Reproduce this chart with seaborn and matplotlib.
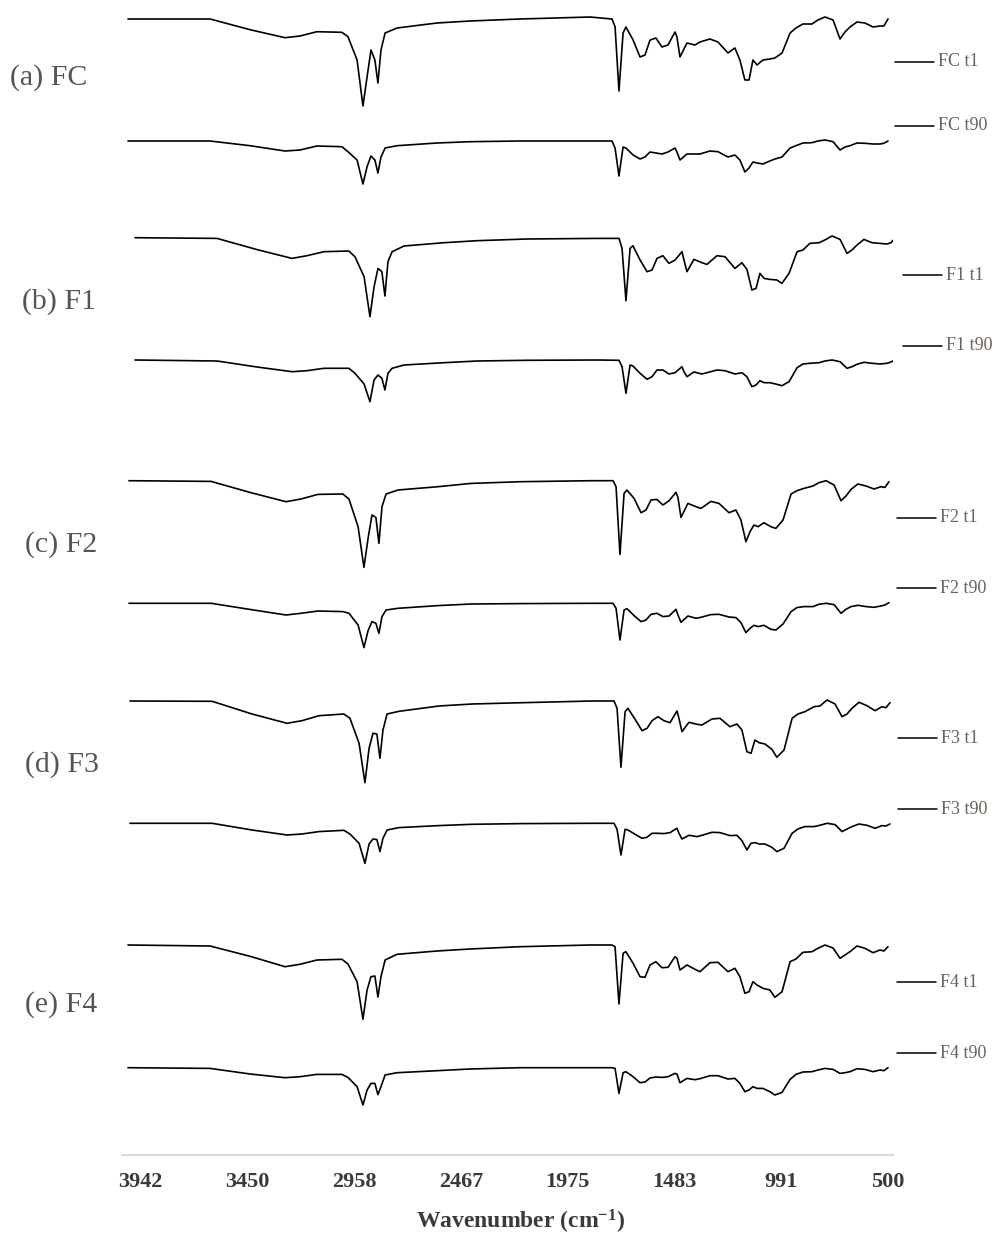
import numpy as np
import pandas as pd
import matplotlib
matplotlib.use("Agg")
import matplotlib.pyplot as plt
import seaborn as sns
from matplotlib import transforms
from matplotlib.lines import Line2D

sns.set_theme(style="white")
plt.rcParams["font.family"] = ["Liberation Serif", "DejaVu Serif"]
plt.rcParams["mathtext.fontset"] = "custom"
plt.rcParams["mathtext.rm"] = "Liberation Serif:bold"
plt.rcParams["mathtext.bf"] = "Liberation Serif:bold"
plt.rcParams["mathtext.it"] = "Liberation Serif:bold"

# ---------------- data ----------------
wavenumber = [4000, 3622, 3438, 3277, 3208, 3130, 3015, 2987, 2945, 2918,
              2899, 2881, 2863, 2849, 2835, 2816, 2761, 2577, 2425, 2195,
              1872, 1771, 1757, 1739, 1720, 1707, 1674, 1642, 1619, 1596,
              1569, 1541, 1513, 1481, 1472, 1458, 1426, 1389, 1366, 1320,
              1283, 1237, 1205, 1182, 1159, 1140, 1122, 1103, 1076, 1044,
              1021, 988, 951, 924, 892, 850, 823, 790, 753, 721,
              698, 675, 643, 606, 569, 537, 519, 500]

# transmittance drop relative to each trace's own baseline (arbitrary units)
fc_t1 = [0, 0, 10.7, 18.7, 17, 12.7, 13.3, 17.7, 41, 87,
         58, 31, 41, 64, 31, 14, 9, 4, 2, 0,
         -2, 0, 7.7, 72, 14, 8, 21, 38, 36, 21,
         19, 28, 26, 13, 18, 38, 24, 26, 23, 20,
         23, 34, 29, 41, 61, 61, 41, 46, 41, 40,
         39, 34, 14, 9, 5, 5, 1, -2, 1, 20,
         13, 8, 3, 4, 8, 7, 7, 0]
fc_t90 = [0, 0, 4.7, 10, 9, 5, 5.7, 10.7, 19, 43,
          25.7, 15, 19, 32, 16, 7, 4.7, 2, 0.7, 0,
          0, 0, 7, 35, 6, 7, 14, 18, 16, 11,
          12, 13, 11, 7, 11, 19, 13, 13, 13, 10,
          10.7, 16, 14, 19, 31, 27, 21, 22, 23, 20,
          18, 16, 7, 4.7, 2, 1.7, 0, -1, 0.7, 9,
          6, 4.7, 2, 2.3, 3, 3, 2.3, 0]
f1_t1 = [0, 0.7, 11.9, 20.7, 18, 14, 13.3, 19, 39, 79,
         49, 30.7, 34, 58.3, 24, 14, 8.3, 5, 3, 1.3,
         0.7, 0.7, 10.7, 63, 10.7, 8, 22.3, 34, 32.3, 20.7,
         18, 25.7, 22.3, 14, 22.3, 34, 21.7, 25, 26.7, 18,
         19, 30.7, 25, 31.7, 52.3, 50.7, 35.7, 40.7, 41.7, 42.3,
         45.7, 35.7, 14, 12.3, 5.7, 5, 2.3, -1.7, 1.7, 15.7,
         12.3, 7.3, 1.7, 5, 5.7, 6.3, 5, 0.7]
f1_t90 = [0, 1, 7, 11.7, 10.7, 8.3, 8.3, 13.3, 24, 41.7,
          20, 15, 18.3, 30, 13.3, 8.3, 5, 2.7, 1, 0.3,
          0, 0.3, 6.7, 33.3, 5, 6, 13.3, 19.3, 16.7, 10,
          10, 14, 12.7, 6.7, 11.7, 16.7, 12, 14, 12.7, 10,
          10.7, 14, 12.7, 16.7, 26.7, 25, 20.7, 22.7, 22.7, 24.3,
          25.7, 21.7, 7.7, 4, 3.3, 2.7, 1, 0, 1.7, 8.3,
          6.7, 4.3, 2.3, 3.3, 4, 3.3, 2, 0]
f2_t1 = [0, 0.7, 12, 21, 18.3, 13.7, 13.3, 18.3, 46, 86.7,
         57.7, 34.3, 36.7, 62.7, 26, 13.3, 9.3, 6, 2.7, 1,
         0, 0, 6, 73.7, 12.7, 9.3, 17.7, 32, 29.3, 19.3,
         18.7, 24.3, 20, 11.7, 16.7, 36.7, 22.7, 26, 27.7, 20.7,
         22.7, 32, 29.3, 39.3, 61, 51, 44.3, 46, 42, 46,
         47.7, 39.3, 13.3, 10, 7.7, 5.3, 2, 0, 4.3, 20,
         15.3, 8.7, 3.3, 5.3, 8.3, 6, 6.7, 1]
f2_t90 = [0, 0, 6.3, 11.7, 10, 7.7, 8.3, 10, 21.7, 44.3,
          27.3, 18.3, 20, 30, 13.3, 6.7, 5, 2.3, 0.7, 0.3,
          0, 0, 5, 36.7, 6.7, 5.3, 12.3, 18.3, 16.7, 11,
          10, 13.3, 12.7, 6, 11.7, 19, 12.7, 15, 14, 11.3,
          11, 13.7, 14.3, 19.3, 29.3, 25, 22, 23.3, 22, 26,
          26.7, 20.7, 8.3, 4.3, 3.3, 3.3, 1, 0, 1.3, 10,
          6, 3.3, 2, 3.3, 4, 2.7, 1.7, -0.7]
f3_t1 = [0, 0.3, 13, 22.3, 19.7, 14.7, 13, 17.3, 42.3, 81.7,
         47.3, 32.3, 33, 57.3, 29, 13, 10.3, 5, 3, 1.7,
         0, 0, 7.3, 66.3, 10.7, 7.3, 18.3, 29.7, 27.3, 19.7,
         15.7, 19.7, 21.7, 10, 17.3, 30.7, 21.3, 23.3, 24, 18,
         17.3, 25.7, 23, 29, 50.7, 52.3, 39, 41.7, 43, 48.3,
         56.3, 49, 17.3, 13, 10.7, 5.7, 5, -1, 3, 15.7,
         13, 7.3, 1.3, 4.7, 9.7, 5.7, 6.7, 1.7]
f3_t90 = [0, 0, 6.7, 11.7, 10.7, 8.3, 7, 10.7, 20, 40,
          20.7, 15.7, 16.3, 28.3, 15, 6.7, 4.3, 2.3, 1, 0.3,
          0, 0, 6, 31.7, 6, 6.7, 11, 15, 14, 10,
          10, 10.3, 9.3, 5, 10, 15.7, 12, 13.3, 12, 9,
          9.3, 12.3, 12, 17.3, 26.7, 20, 19.3, 20.7, 20.7, 24,
          28.3, 25, 10, 5.7, 3.3, 3.3, 2, 0, 1.3, 8.3,
          5.7, 3.3, 0.7, 2, 5, 2.3, 2.7, 0.7]
f4_t1 = [0, 1, 11.3, 21.7, 19.3, 15, 14.3, 19, 36.7, 74.3,
         45, 31.7, 31, 52, 31.7, 15, 9.3, 6, 4, 1.7,
         0, 0, 1.7, 59, 8.3, 6.7, 18.3, 31.7, 32.3, 20,
         16.7, 22.7, 22.3, 11.7, 13.3, 25, 20, 24.3, 26.7, 17.7,
         17.3, 26.7, 23.3, 31.7, 48.3, 46.7, 36.7, 40, 43.3, 45,
         52.3, 46.7, 16.7, 14, 7.3, 6.7, 3.3, 0, 3, 13.3,
         10, 6.7, 1, 3.3, 7.7, 5, 6, 1.7]
f4_t90 = [0, 0.7, 6.3, 10, 9, 6.7, 6.7, 9.7, 19, 37.3,
          22.3, 15.7, 15.7, 27, 19, 7.3, 5, 3, 1.3, 0,
          0, 0, 0.7, 25.7, 5, 4, 9, 15, 14.3, 10.3,
          9.3, 9.7, 9, 5.7, 6.3, 15, 10.7, 12, 11, 8,
          8, 11.3, 10.7, 15.7, 24, 22.3, 19, 20.7, 20.7, 24,
          27.3, 24.7, 11.7, 6.7, 4.3, 4, 2.3, 0.7, 1.7, 5.7,
          5, 4, 1, 1.7, 4, 2.3, 3, 0]

series_names = ["FC t1", "FC t90", "F1 t1", "F1 t90", "F2 t1", "F2 t90",
                "F3 t1", "F3 t90", "F4 t1", "F4 t90"]
series_values = [fc_t1, fc_t90, f1_t1, f1_t90, f2_t1, f2_t90,
                 f3_t1, f3_t90, f4_t1, f4_t90]
group_labels = ["(a) FC", "(b) F1", "(c) F2", "(d) F3", "(e) F4"]
tick_values = [3942, 3450, 2958, 2467, 1975, 1483, 991, 500]

# ---------------- layout (pixels) ----------------
W, H = 999, 1234
AX_L, AX_R, AX_B = 122, 893, 1155
baselines = [19, 141, 237.7, 360, 480.7, 603.3, 701, 823.3, 945, 1067.7]
shift_px = [0, 0, 7, 7, 1, 1, 2, 2, 0, 0]
legend_y = [62, 126, 275, 345.7, 517.7, 588.3, 738.3, 809, 982.3, 1053.3]
legend_x0 = [895, 895, 903, 903, 897, 897, 898, 898, 897, 897]
group_pos = [(10, 78), (22, 302), (25, 545), (25, 765), (25, 1005)]

rows = []
for name, vals, base in zip(series_names, series_values, baselines):
    for wn, v in zip(wavenumber, vals):
        rows.append({"series": name, "wavenumber": wn, "drop": v, "y": base + v})
df = pd.DataFrame(rows)

fig = plt.figure(figsize=(W / 100, H / 100), dpi=100)
ax = fig.add_axes([AX_L / W, (H - AX_B) / H, (AX_R - AX_L) / W, AX_B / H])

for name, sh in zip(series_names, shift_px):
    sub = df[df["series"] == name]
    tr = ax.transData + transforms.ScaledTranslation(sh / 100, 0, fig.dpi_scale_trans)
    sns.lineplot(data=sub, x="wavenumber", y="y", ax=ax, color="black",
                 linewidth=1.2, sort=False, estimator=None, legend=False,
                 transform=tr)

ax.set_xlim(4027.6, 477)
ax.set_ylim(AX_B, 0)
ax.set_xlabel("")
ax.set_ylabel("")
ax.set_yticks([])
ax.set_xticks(tick_values)
ax.set_xticklabels([str(v) for v in tick_values], fontweight="bold",
                   fontsize=16, color="#3a3a3a")
ax.tick_params(axis="x", length=0, pad=12)
for s in ["top", "left", "right"]:
    ax.spines[s].set_visible(False)
ax.spines["bottom"].set_color("#d9d9d9")
ax.spines["bottom"].set_linewidth(1.5)
ax.set_facecolor("white")

def fx(px):
    return px / W

def fy(py):
    return 1 - py / H

fig.text(fx(521), fy(1222), r"Wavenumber (cm$^{-1}$)", ha="center", va="center",
         fontsize=17, fontweight="bold", color="#3a3a3a")

for lab, (px, py) in zip(group_labels, group_pos):
    fig.text(fx(px), fy(py), lab, ha="left", va="center", fontsize=21.5,
             color="#555555")

for name, ly, lx in zip(series_names, legend_y, legend_x0):
    fig.add_artist(Line2D([fx(lx), fx(lx + 39)], [fy(ly), fy(ly)],
                          transform=fig.transFigure, color="black", linewidth=1.1))
    fig.text(fx(lx + 43), fy(ly), name, ha="left", va="center", fontsize=13,
             color="#6a625a")

fig.savefig("out.png", dpi=100, facecolor="white")
